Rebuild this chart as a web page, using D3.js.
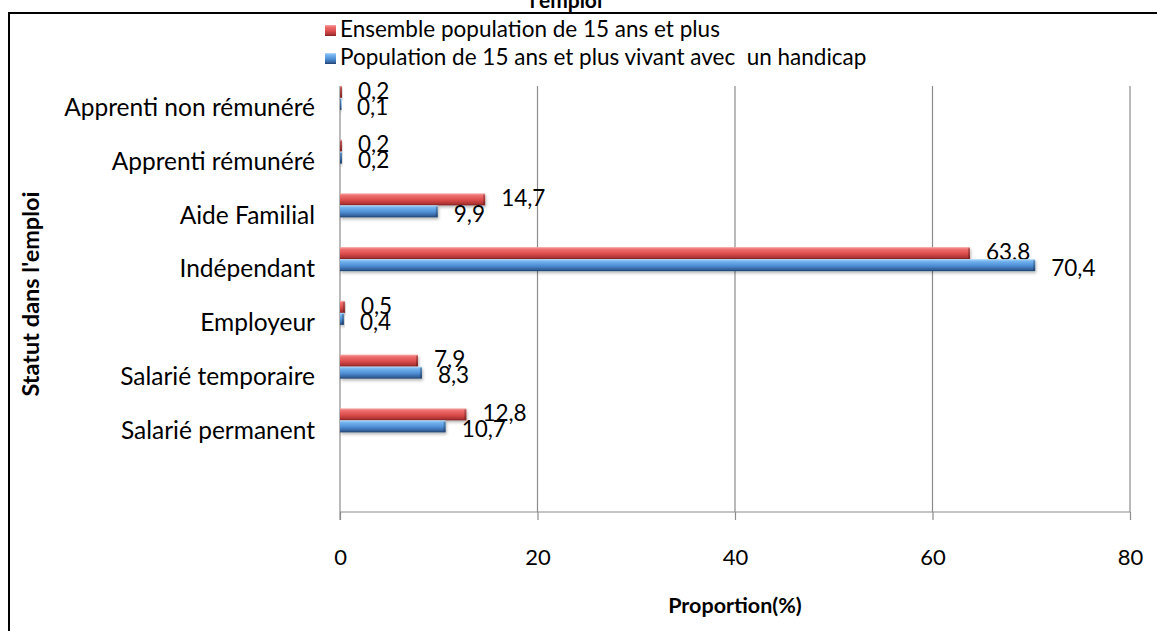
<!DOCTYPE html>
<html>
<head>
<meta charset="utf-8">
<script src="https://cdn.jsdelivr.net/npm/d3@7"></script>
<style>
  body { margin: 0; background: #fff; }
  svg { display: block; }
  text { font-family: Lato, "Open Sans", sans-serif; fill: #000; white-space: pre; }
</style>
</head>
<body>
<svg id="chart" width="1157" height="631"></svg>
<script>
// ---- data ----
const categories = ["Apprenti non rémunéré", "Apprenti rémunéré", "Aide Familial", "Indépendant", "Employeur", "Salarié temporaire", "Salarié permanent", ""];
const ensemble  = [0.2, 0.2, 14.7, 63.8, 0.5, 7.9, 12.8, null];
const handicap  = [0.1, 0.2, 9.9, 70.4, 0.4, 8.3, 10.7, null];
const seriesNames = ["Ensemble population de 15 ans et plus", "Population de 15 ans et plus vivant avec  un handicap"];
const xTicks = [0, 20, 40, 60, 80];
const fmt = v => String(v.toFixed(1)).replace(".", ",");

const svg = d3.select("#chart");
const defs = svg.append("defs");

function grad(id, stops) {
  const g = defs.append("linearGradient").attr("id", id).attr("x1", 0).attr("y1", 0).attr("x2", 0).attr("y2", 1);
  stops.forEach(s => g.append("stop").attr("offset", s[0]).attr("stop-color", s[1]));
}
grad("gRed",  [[0, "#f7a9a9"], [0.18, "#ee6e6e"], [0.55, "#dc4d4d"], [0.85, "#b03434"], [1, "#7e2222"]]);
grad("gBlue", [[0, "#b6dcfa"], [0.18, "#73b3ef"], [0.55, "#4f8fd6"], [0.85, "#34639f"], [1, "#213f6b"]]);
const fsh = defs.append("filter").attr("id", "sh").attr("x", "-5%").attr("y", "-50%").attr("width", "115%").attr("height", "250%");
fsh.append("feDropShadow").attr("dx", 1).attr("dy", 2).attr("stdDeviation", 1.5).attr("flood-color", "#000").attr("flood-opacity", 0.28);

// ---- scales ----
const x = d3.scaleLinear().domain([0, 80]).range([340, 1130]);
const y = d3.scaleBand().domain(categories).range([71, 501]).padding(0);
const axisY = 512, gridTop = 86;

// border
svg.append("rect").attr("x", 9).attr("y", 13).attr("width", 1300).attr("height", 800)
  .attr("fill", "none").attr("stroke", "#000").attr("stroke-width", 2);

// title (cut off at top)
svg.append("text").attr("x", 566).attr("y", 8).attr("text-anchor", "middle")
  .attr("font-weight", "bold").attr("font-size", 21).text("l'emploi");

// gridlines
svg.append("g").selectAll("line").data(xTicks.slice(1)).join("line")
  .attr("x1", d => x(d)).attr("x2", d => x(d)).attr("y1", gridTop).attr("y2", axisY)
  .attr("stroke", "#8c8c8c").attr("stroke-width", 1.2);

// x axis
const xAxis = d3.axisBottom(x).tickValues(xTicks).tickSize(8).tickFormat(d => d);
const gx = svg.append("g").attr("transform", `translate(0,${axisY})`).call(xAxis);
gx.select(".domain").attr("stroke", "#8c8c8c").attr("stroke-width", 1.2).attr("d", `M${x(0)},0H${x(80)}`);
gx.selectAll(".tick line").attr("stroke", "#8c8c8c").attr("stroke-width", 1.2);
gx.selectAll(".tick text").attr("font-size", 22).attr("dy", 0).attr("y", 47)
  .attr("dominant-baseline", "middle").style("font-family", "Lato, sans-serif");

// y axis line
svg.append("line").attr("x1", x(0)).attr("x2", x(0)).attr("y1", gridTop).attr("y2", axisY + 8)
  .attr("stroke", "#8c8c8c").attr("stroke-width", 1.2);

// category labels
svg.append("g").selectAll("text").data(categories).join("text")
  .attr("x", 315).attr("y", d => y(d) + y.bandwidth() / 2 + 12)
  .attr("dominant-baseline", "middle").attr("text-anchor", "end").attr("font-size", 24.5).text(d => d);

// bars
const bh = 12;
function drawSeries(vals, fill, off, labOff) {
  const g = svg.append("g");
  const data = categories.map((c, i) => ({ c, v: vals[i] })).filter(d => d.v != null);
  g.selectAll("rect").data(data).join("rect")
    .attr("x", x(0)).attr("y", d => y(d.c) + y.bandwidth() / 2 + off)
    .attr("width", d => Math.max(1.5, x(d.v) - x(0))).attr("height", bh)
    .attr("fill", fill).attr("filter", "url(#sh)");
  g.selectAll("rect.cap").data(data).join("rect").attr("class", "cap")
    .attr("x", d => Math.max(x(0), x(d.v) - 2)).attr("y", d => y(d.c) + y.bandwidth() / 2 + off + 1)
    .attr("width", d => Math.min(2, x(d.v) - x(0))).attr("height", bh - 2)
    .attr("fill", "#000").attr("opacity", 0.25);
  g.selectAll("text").data(data).join("text")
    .attr("x", d => x(d.v) + 16).attr("y", d => y(d.c) + y.bandwidth() / 2 + labOff)
    .attr("dominant-baseline", "middle").attr("font-size", 22.5).text(d => fmt(d.v));
}
drawSeries(ensemble, "url(#gRed)", -12, -5);
drawSeries(handicap, "url(#gBlue)", 0, 11);

// legend
const leg = svg.append("g");
[["url(#gRed)", 31], ["url(#gBlue)", 59]].forEach((s, i) => {
  leg.append("rect").attr("x", 325).attr("y", s[1] - 6).attr("width", 11).attr("height", 11).attr("fill", s[0]);
  leg.append("text").attr("x", 340).attr("y", s[1]).attr("dominant-baseline", "middle")
    .attr("font-size", 22.5).text(seriesNames[i]);
});

// axis titles
svg.append("text").attr("x", x(40)).attr("y", 607).attr("text-anchor", "middle").attr("dominant-baseline", "middle")
  .attr("font-weight", "bold").attr("font-size", 21.5).text("Proportion(%)");
svg.append("text").attr("transform", "translate(33,294) rotate(-90)").attr("text-anchor", "middle")
  .attr("dominant-baseline", "middle").attr("font-weight", "bold").attr("font-size", 23.5).text("Statut dans l'emploi");
</script>
</body>
</html>
